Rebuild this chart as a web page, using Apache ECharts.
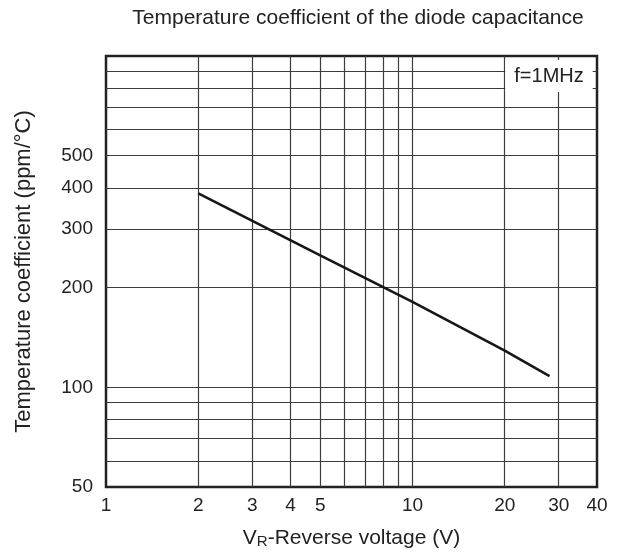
<!DOCTYPE html>
<html>
<head>
<meta charset="utf-8">
<script src="https://cdn.jsdelivr.net/npm/echarts@6/dist/echarts.min.js"></script>
<style>html,body{margin:0;padding:0;background:#fff}#c{width:620px;height:556px}</style>
</head>
<body>
<div id="c"></div>
<script>
// Data
const voltage = [2, 5, 10, 20, 28];          // V_R (V)
const tempCoef = [385, 250, 181, 129, 108];  // ppm/°C
const xTickLabels = [1, 2, 3, 4, 5, 10, 20, 30, 40];
const yTickLabels = [50, 100, 200, 300, 400, 500];
const xGridValues = [2, 3, 4, 5, 6, 7, 8, 9, 10, 20, 30];
const yGridValues = [60, 70, 80, 90, 100, 200, 300, 400, 500, 600, 700, 800, 900];

const FONT = 'Liberation Sans, Arial, Helvetica, sans-serif';
const TXT = '#222';

const chart = echarts.init(document.getElementById('c'), null, {renderer: 'canvas'});
const gridLineStyle = {color: '#3c3c3c', width: 1.2, type: 'solid'};

chart.setOption({
  animation: false,
  backgroundColor: '#fff',
  title: {
    text: 'Temperature coefficient of the diode capacitance',
    left: 353, top: 3, textAlign: 'center',
    textStyle: {fontFamily: FONT, fontSize: 21, fontWeight: 'normal', color: TXT}
  },
  grid: {left: 106, top: 56, width: 491, height: 431, show: true,
         borderColor: '#222', borderWidth: 2.5, backgroundColor: 'transparent'},
  xAxis: {
    type: 'log', logBase: 10, min: 1, max: 40,
    axisLine: {show: false}, axisTick: {show: false}, splitLine: {show: false},
    minorTick: {show: false}, minorSplitLine: {show: false},
    axisLabel: {customValues: xTickLabels, margin: 9, fontFamily: FONT, fontSize: 19, color: TXT,
                showMinLabel: true, showMaxLabel: true},
    name: '{v|V}{r|R}{t|-Reverse voltage (V)}',
    nameLocation: 'middle', nameGap: 38,
    nameTextStyle: {
      fontFamily: FONT, color: TXT,
      rich: {
        v: {fontFamily: FONT, fontSize: 21, color: TXT, verticalAlign: 'bottom', lineHeight: 24},
        r: {fontFamily: FONT, fontSize: 15, color: TXT, verticalAlign: 'bottom', lineHeight: 20},
        t: {fontFamily: FONT, fontSize: 21, color: TXT, verticalAlign: 'bottom', lineHeight: 24}
      }
    }
  },
  yAxis: {
    type: 'log', logBase: 10, min: 50, max: 1000,
    axisLine: {show: false}, axisTick: {show: false}, splitLine: {show: false},
    minorTick: {show: false}, minorSplitLine: {show: false},
    axisLabel: {customValues: yTickLabels, margin: 13, fontFamily: FONT, fontSize: 19, color: TXT},
    name: 'Temperature coefficient (ppm/°C)',
    nameLocation: 'middle', nameGap: 71, nameRotate: 90,
    nameTextStyle: {fontFamily: FONT, fontSize: 22, color: TXT}
  },
  graphic: [{
    type: 'text', x: 549, y: 76, z: 100,
    style: {text: 'f=1MHz', fill: TXT, font: '20px ' + FONT, align: 'center', verticalAlign: 'middle',
            backgroundColor: '#fff', padding: [6, 9]}
  }],
  series: [{
    type: 'line',
    data: voltage.map((v, i) => [v, tempCoef[i]]),
    showSymbol: false, symbol: 'none',
    lineStyle: {color: '#161616', width: 2.6},
    z: 5,
    markLine: {
      silent: true, symbol: 'none', animation: false,
      label: {show: false},
      lineStyle: gridLineStyle,
      data: xGridValues.map(v => ({xAxis: v})).concat(yGridValues.map(v => ({yAxis: v})))
    }
  }]
});
</script>
</body>
</html>
